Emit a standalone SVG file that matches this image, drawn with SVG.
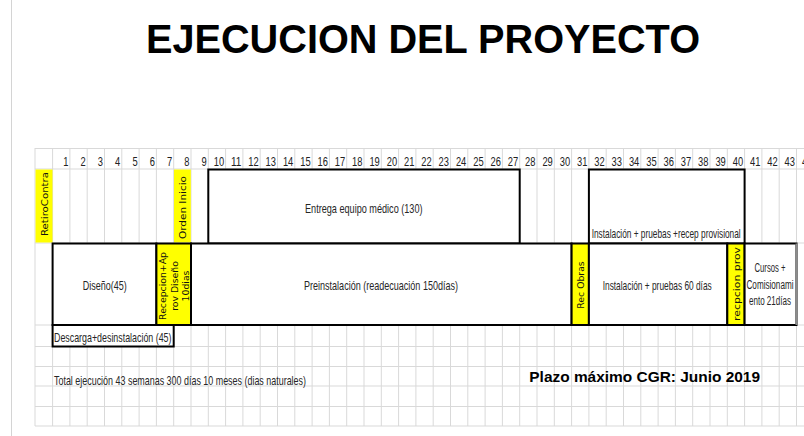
<svg xmlns="http://www.w3.org/2000/svg" width="804" height="436" viewBox="0 0 804 436">
<defs>
<style>
.grid{stroke:#d9d9d9;stroke-width:1;fill:none}
.num{font-family:"Liberation Sans",Arial,sans-serif;font-size:13.5px;fill:#222;text-anchor:end}
.cell{font-family:"Liberation Sans",Arial,sans-serif;font-size:13px;fill:#262626}
.small{font-family:"Liberation Sans",Arial,sans-serif;font-size:12px;fill:#262626;text-anchor:middle}
.box{fill:#fff;stroke:#000;stroke-width:2}
.ybox{fill:#ffff00;stroke:#000;stroke-width:2}
.yfill{fill:#ffff00}
.vt{font-family:"DejaVu Sans",Verdana,sans-serif;font-size:9.3px;fill:#111;text-anchor:middle;dominant-baseline:central}
</style>
</defs>
<rect width="804" height="436" fill="#fff"/>
<line x1="11.5" y1="0" x2="11.5" y2="436" stroke="#d4d4d4" stroke-width="1"/>
<g id="title">
<text x="146" y="53" font-family="Liberation Sans,Arial,sans-serif" font-size="41" font-weight="bold" fill="#000" textLength="554" lengthAdjust="spacingAndGlyphs">EJECUCION DEL PROYECTO</text>
</g>
<g id="grid">
<path class="grid" d="M35 148V426M52.6 148V426M69.9 148V426M87.2 148V426M104.5 148V426M121.8 148V426M139.1 148V426M156.4 148V426M173.7 148V426M191 148V426M208.3 148V426M225.6 148V426M242.9 148V426M260.2 148V426M277.5 148V426M294.8 148V426M312.1 148V426M329.4 148V426M346.7 148V426M364 148V426M381.3 148V426M398.6 148V426M415.9 148V426M433.2 148V426M450.5 148V426M467.8 148V426M485.1 148V426M502.4 148V426M519.7 148V426M537 148V426M554.3 148V426M571.6 148V426M588.9 148V426M606.2 148V426M623.5 148V426M640.8 148V426M658.1 148V426M675.4 148V426M692.7 148V426M710 148V426M727.3 148V426M744.6 148V426M761.9 148V426M779.2 148V426M796.5 148V426M35 148.5H804M35 169H804M35 243H804M35 325H804M35 346.5H804M35 366.5H804M35 386H804M35 406.5H804M35 426H804"/>
</g>
<g id="header">
<text class="num" x="68.4" y="166" textLength="5.2" lengthAdjust="spacingAndGlyphs">1</text>
<text class="num" x="85.7" y="166" textLength="5.2" lengthAdjust="spacingAndGlyphs">2</text>
<text class="num" x="103" y="166" textLength="5.2" lengthAdjust="spacingAndGlyphs">3</text>
<text class="num" x="120.3" y="166" textLength="5.2" lengthAdjust="spacingAndGlyphs">4</text>
<text class="num" x="137.6" y="166" textLength="5.2" lengthAdjust="spacingAndGlyphs">5</text>
<text class="num" x="154.9" y="166" textLength="5.2" lengthAdjust="spacingAndGlyphs">6</text>
<text class="num" x="172.2" y="166" textLength="5.2" lengthAdjust="spacingAndGlyphs">7</text>
<text class="num" x="189.5" y="166" textLength="5.2" lengthAdjust="spacingAndGlyphs">8</text>
<text class="num" x="206.8" y="166" textLength="5.2" lengthAdjust="spacingAndGlyphs">9</text>
<text class="num" x="224.1" y="166" textLength="10.4" lengthAdjust="spacingAndGlyphs">10</text>
<text class="num" x="241.4" y="166" textLength="10.4" lengthAdjust="spacingAndGlyphs">11</text>
<text class="num" x="258.7" y="166" textLength="10.4" lengthAdjust="spacingAndGlyphs">12</text>
<text class="num" x="276" y="166" textLength="10.4" lengthAdjust="spacingAndGlyphs">13</text>
<text class="num" x="293.3" y="166" textLength="10.4" lengthAdjust="spacingAndGlyphs">14</text>
<text class="num" x="310.6" y="166" textLength="10.4" lengthAdjust="spacingAndGlyphs">15</text>
<text class="num" x="327.9" y="166" textLength="10.4" lengthAdjust="spacingAndGlyphs">16</text>
<text class="num" x="345.2" y="166" textLength="10.4" lengthAdjust="spacingAndGlyphs">17</text>
<text class="num" x="362.5" y="166" textLength="10.4" lengthAdjust="spacingAndGlyphs">18</text>
<text class="num" x="379.8" y="166" textLength="10.4" lengthAdjust="spacingAndGlyphs">19</text>
<text class="num" x="397.1" y="166" textLength="10.4" lengthAdjust="spacingAndGlyphs">20</text>
<text class="num" x="414.4" y="166" textLength="10.4" lengthAdjust="spacingAndGlyphs">21</text>
<text class="num" x="431.7" y="166" textLength="10.4" lengthAdjust="spacingAndGlyphs">22</text>
<text class="num" x="449" y="166" textLength="10.4" lengthAdjust="spacingAndGlyphs">23</text>
<text class="num" x="466.3" y="166" textLength="10.4" lengthAdjust="spacingAndGlyphs">24</text>
<text class="num" x="483.6" y="166" textLength="10.4" lengthAdjust="spacingAndGlyphs">25</text>
<text class="num" x="500.9" y="166" textLength="10.4" lengthAdjust="spacingAndGlyphs">26</text>
<text class="num" x="518.2" y="166" textLength="10.4" lengthAdjust="spacingAndGlyphs">27</text>
<text class="num" x="535.5" y="166" textLength="10.4" lengthAdjust="spacingAndGlyphs">28</text>
<text class="num" x="552.8" y="166" textLength="10.4" lengthAdjust="spacingAndGlyphs">29</text>
<text class="num" x="570.1" y="166" textLength="10.4" lengthAdjust="spacingAndGlyphs">30</text>
<text class="num" x="587.4" y="166" textLength="10.4" lengthAdjust="spacingAndGlyphs">31</text>
<text class="num" x="604.7" y="166" textLength="10.4" lengthAdjust="spacingAndGlyphs">32</text>
<text class="num" x="622" y="166" textLength="10.4" lengthAdjust="spacingAndGlyphs">33</text>
<text class="num" x="639.3" y="166" textLength="10.4" lengthAdjust="spacingAndGlyphs">34</text>
<text class="num" x="656.6" y="166" textLength="10.4" lengthAdjust="spacingAndGlyphs">35</text>
<text class="num" x="673.9" y="166" textLength="10.4" lengthAdjust="spacingAndGlyphs">36</text>
<text class="num" x="691.2" y="166" textLength="10.4" lengthAdjust="spacingAndGlyphs">37</text>
<text class="num" x="708.5" y="166" textLength="10.4" lengthAdjust="spacingAndGlyphs">38</text>
<text class="num" x="725.8" y="166" textLength="10.4" lengthAdjust="spacingAndGlyphs">39</text>
<text class="num" x="743.1" y="166" textLength="10.4" lengthAdjust="spacingAndGlyphs">40</text>
<text class="num" x="760.4" y="166" textLength="10.4" lengthAdjust="spacingAndGlyphs">41</text>
<text class="num" x="777.7" y="166" textLength="10.4" lengthAdjust="spacingAndGlyphs">42</text>
<text class="num" x="795" y="166" textLength="10.4" lengthAdjust="spacingAndGlyphs">43</text>
<text class="num" x="812.3" y="166" textLength="10.4" lengthAdjust="spacingAndGlyphs">44</text>
</g>
<g id="retiro-contra">
<rect class="yfill" x="35.5" y="169.5" width="17" height="73"/>
<text class="vt" transform="translate(44,204) rotate(-90)" font-size="10" textLength="64" lengthAdjust="spacingAndGlyphs">RetiroContra</text>
</g>
<g id="orden-inicio">
<rect class="yfill" x="174" y="169.5" width="16.8" height="73"/>
<text class="vt" transform="translate(182.3,207.5) rotate(-90)" font-size="10" textLength="63" lengthAdjust="spacingAndGlyphs">Orden Inicio</text>
</g>
<g id="entrega">
<rect class="box" x="208.3" y="169.5" width="311.4" height="74"/>
<text class="cell" x="305" y="212.5" textLength="117.5" lengthAdjust="spacingAndGlyphs">Entrega equipo médico (130)</text>
</g>
<g id="instalacion-recep">
<rect class="box" x="588.9" y="169.5" width="155.7" height="74"/>
<text class="cell" x="591.7" y="237.5" font-size="12.5" textLength="149" lengthAdjust="spacingAndGlyphs">Instalación + pruebas +recep provisional</text>
</g>
<g id="diseno">
<rect class="box" x="52.6" y="243.5" width="103.8" height="81.5"/>
<text class="cell" x="82.7" y="289.5" textLength="44" lengthAdjust="spacingAndGlyphs">Diseño(45)</text>
</g>
<g id="recepcion-diseno">
<rect class="ybox" x="156.4" y="243.5" width="34.6" height="81.5"/>
<text class="vt" transform="translate(162.9,286) rotate(-90)">Recepcion+Ap</text>
<text class="vt" transform="translate(174.2,286) rotate(-90)">rov Diseño</text>
<text class="vt" transform="translate(185.5,286) rotate(-90)">10dias</text>
</g>
<g id="preinstalacion">
<rect class="box" x="191" y="243.5" width="380.6" height="81.5"/>
<text class="cell" x="304" y="289.5" textLength="154" lengthAdjust="spacingAndGlyphs">Preinstalación (readecuación 150días)</text>
</g>
<g id="rec-obras">
<rect class="ybox" x="571.6" y="243.5" width="17.3" height="81.5"/>
<text class="vt" transform="translate(580.4,285) rotate(-90)">Rec Obras</text>
</g>
<g id="instalacion-60">
<rect class="box" x="588.9" y="243.5" width="138.4" height="81.5"/>
<text class="cell" x="602.7" y="289.5" textLength="109" lengthAdjust="spacingAndGlyphs">Instalación + pruebas 60 días</text>
</g>
<g id="recepcion-prov">
<rect class="ybox" x="727.3" y="243.5" width="17.3" height="81.5"/>
<text class="vt" transform="translate(736,284) rotate(-90)" textLength="74" lengthAdjust="spacingAndGlyphs">recpcion prov</text>
</g>
<g id="cursos">
<rect x="744.6" y="243.5" width="51.9" height="81.5" fill="#fff" stroke="#000" stroke-width="2"/>
<line x1="796.5" y1="243.5" x2="796.5" y2="325" stroke="#8c8c8c" stroke-width="2"/>
<text class="small" x="770" y="272" textLength="31" lengthAdjust="spacingAndGlyphs">Cursos +</text>
<text class="small" x="770" y="288.5" textLength="47" lengthAdjust="spacingAndGlyphs">Comisionami</text>
<text class="small" x="770" y="305" textLength="42" lengthAdjust="spacingAndGlyphs">ento 21días</text>
</g>
<g id="descarga">
<rect class="box" x="52.6" y="325" width="121.1" height="21.5"/>
<text class="cell" x="54" y="342" textLength="117.5" lengthAdjust="spacingAndGlyphs">Descarga+desinstalación (45)</text>
</g>
<g id="total">
<text class="cell" x="54" y="385" textLength="252" lengthAdjust="spacingAndGlyphs">Total ejecución 43 semanas 300 días 10 meses (dias naturales)</text>
</g>
<g id="plazo">
<text x="529.3" y="382" font-family="Liberation Sans,Arial,sans-serif" font-size="15.4" font-weight="bold" fill="#000" textLength="230.7" lengthAdjust="spacingAndGlyphs">Plazo máximo CGR: Junio 2019</text>
</g>
</svg>
